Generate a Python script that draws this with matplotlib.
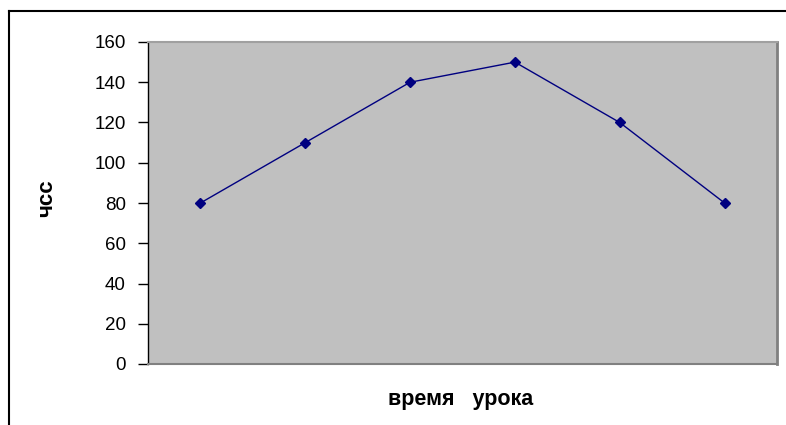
import matplotlib.pyplot as plt
from matplotlib.lines import Line2D

# data
lessons = [1, 2, 3, 4, 5, 6]
hr = [80, 110, 140, 150, 120, 80]
yticks = [0, 20, 40, 60, 80, 100, 120, 140, 160]

plt.rcParams['font.family'] = ['Liberation Sans', 'DejaVu Sans']

fig = plt.figure(figsize=(7.86, 4.25), dpi=100)
ax = fig.add_axes([148 / 786, 61 / 425, 629 / 786, 322 / 425])
ax.set_facecolor('#C0C0C0')

ax.plot(lessons, hr, color='#000080', linewidth=1, marker='D',
        markersize=5.5, markerfacecolor='#000080', markeredgecolor='#000080')

ax.set_xlim(0.5, 6.5)
ax.set_ylim(0, 160)
ax.set_yticks(yticks)
ax.set_xticks([])
ax.tick_params(axis='y', direction='out', length=7, width=1,
               labelsize=13.5, pad=9, colors='black')

ax.spines['left'].set_color('black')
ax.spines['left'].set_linewidth(1)
ax.spines['bottom'].set_color('#808080')
ax.spines['bottom'].set_linewidth(1.5)
ax.spines['right'].set_color('#808080')
ax.spines['right'].set_linewidth(2)
ax.spines['top'].set_color('#A0A0A0')
ax.spines['top'].set_linewidth(1.5)

fig.text(461 / 786, 1 - 399 / 425, 'время   урока', ha='center', va='center',
         fontsize=15.5, fontweight='bold')
fig.text(47 / 786, 1 - 198 / 425, 'чсс', ha='center', va='center',
         fontsize=16, fontweight='bold', rotation=90)

# outer chart frame (cropped on right and bottom)
fig.add_artist(Line2D([9 / 786, 9 / 786], [0, 1 - 11 / 425],
                      transform=fig.transFigure, color='black', linewidth=1.5))
fig.add_artist(Line2D([9 / 786, 1], [1 - 11 / 425, 1 - 11 / 425],
                      transform=fig.transFigure, color='black', linewidth=1.5))

fig.savefig('out.png', dpi=100)
